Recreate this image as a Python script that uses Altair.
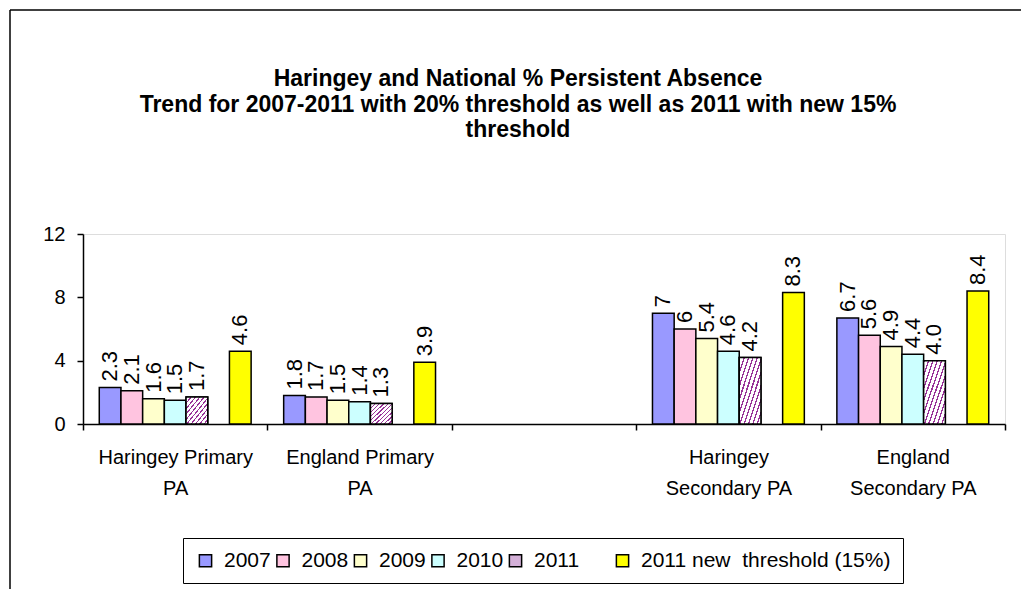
import altair as alt
import pandas as pd

# ---- data ----
categories = ["Haringey Primary PA", "England Primary PA", "Haringey Secondary PA", "England Secondary PA"]
axis_order = ["Haringey Primary PA", "England Primary PA", "gap", "Haringey Secondary PA", "England Secondary PA"]
axis_label_lines = {
    "Haringey Primary PA": ["Haringey Primary", "PA"],
    "England Primary PA": ["England Primary", "PA"],
    "gap": [""],
    "Haringey Secondary PA": ["Haringey", "Secondary PA"],
    "England Secondary PA": ["England", "Secondary PA"],
}

NEW = "2011 new\u00a0 threshold (15%)"
BLANK = "    "
series = ["2007", "2008", "2009", "2010", "2011", BLANK, NEW]
series_colors = ["#9999FF", "#FFC4E0", "#FFFFCC", "#CCFFFF", "#D4B0D8", "#FFFFFF", "#FFFF00"]

v2007 = [2.3, 1.8, 7.0, 6.7]
v2008 = [2.1, 1.7, 6.0, 5.6]
v2009 = [1.6, 1.5, 5.4, 4.9]
v2010 = [1.5, 1.4, 4.6, 4.4]
v2011 = [1.7, 1.3, 4.2, 4.0]
vnew = [4.6, 3.9, 8.3, 8.4]

l2007 = ["2.3", "1.8", "7", "6.7"]
l2008 = ["2.1", "1.7", "6", "5.6"]
l2009 = ["1.6", "1.5", "5.4", "4.9"]
l2010 = ["1.5", "1.4", "4.6", "4.4"]
l2011 = ["1.7", "1.3", "4.2", "4.0"]
lnew = ["4.6", "3.9", "8.3", "8.4"]

y_ticks = [0, 4, 8, 12]
title_lines = [
    "Haringey and National % Persistent Absence",
    "Trend for 2007-2011 with 20% threshold as well as 2011 with new 15%",
    "threshold",
]

# ---- build table ----
value_sets = [("2007", v2007, l2007), ("2008", v2008, l2008), ("2009", v2009, l2009),
              ("2010", v2010, l2010), ("2011", v2011, l2011), (NEW, vnew, lnew)]
rows = []
for s, vals, labs in value_sets:
    for c, v, l in zip(categories, vals, labs):
        rows.append({"cat": c, "series": s, "value": v, "label": l})
df = pd.DataFrame(rows)
title_df = pd.DataFrame({"title": ["\n".join(title_lines)]})
one_df = pd.DataFrame({"k": [0]})

FONT = "Liberation Sans"

label_expr = ""
for k, lines in axis_label_lines.items():
    arr = "[" + ",".join("'" + t + "'" for t in lines) + "]"
    label_expr += f"datum.value == '{k}' ? {arr} : "
label_expr += "datum.label"

x_enc = alt.X(
    "cat:N",
    scale=alt.Scale(domain=axis_order, paddingInner=0, paddingOuter=0),
    axis=alt.Axis(
        title=None, labelAngle=0, labelExpr=label_expr, tickBand="extent",
        labelFont=FONT, labelFontSize=20, labelColor="black", labelLineHeight=31,
        labelPadding=17, labelBaseline="top", tickSize=6, tickColor="black",
        tickWidth=1.5, domainColor="black", domainWidth=1.5, grid=False,
        labelLimit=300,
    ),
)
xoff_enc = alt.XOffset(
    "series:N", scale=alt.Scale(domain=series, paddingInner=0, paddingOuter=0.75)
)
y_enc = alt.Y(
    "value:Q",
    scale=alt.Scale(domain=[0, 12], nice=False),
    axis=alt.Axis(
        title=None, values=y_ticks, labelFont=FONT, labelFontSize=20,
        labelColor="black", labelPadding=12, tickSize=6, tickColor="black",
        tickWidth=1.5, domainColor="black", domainWidth=1.5, grid=False,
    ),
)

bars = alt.Chart(df).mark_bar(stroke="black", strokeWidth=1.5).encode(
    x=x_enc,
    xOffset=xoff_enc,
    y=y_enc,
    color=alt.Color(
        "series:N",
        scale=alt.Scale(domain=series, range=series_colors),
        legend=alt.Legend(
            title=None, orient="none", legendX=100, legendY=304,
            direction="horizontal", columns=7, symbolType="square",
            symbolSize=150, symbolStrokeColor="black", symbolStrokeWidth=1.5,
            labelFont=FONT, labelFontSize=21, labelColor="black", labelOffset=8,
            columnPadding=1.5, padding=12, strokeColor="black", labelLimit=400,
            symbolOpacity=alt.ExprRef(expr=f"datum.value === '{BLANK}' ? 0 : 1"),
        ),
    ),
)

stops = []
n_stripes = 10
for i in range(n_stripes):
    a = i / n_stripes
    b = (i + 0.32) / n_stripes
    c = (i + 1) / n_stripes
    stops += [
        alt.GradientStop(color="#993399", offset=a),
        alt.GradientStop(color="#993399", offset=b),
        alt.GradientStop(color="#FFFFFF", offset=b),
        alt.GradientStop(color="#FFFFFF", offset=c),
    ]
hatch = alt.LinearGradient(gradient="linear", stops=stops, x1=0, y1=0, x2=1, y2=1)

hatch_bars = alt.Chart(df).transform_filter(alt.datum.series == "2011").mark_bar(
    stroke="black", strokeWidth=1.5, fill=hatch
).encode(x=x_enc, xOffset=xoff_enc, y=y_enc)

texts = alt.Chart(df).mark_text(
    angle=270, align="left", baseline="middle", dx=6, font=FONT, fontSize=22, color="black"
).encode(x=x_enc, xOffset=xoff_enc, y=y_enc, text="label:N")

title_text = alt.Chart(title_df).mark_text(
    font=FONT, fontSize=23, fontWeight="bold", color="black", align="center",
    baseline="middle", lineBreak="\n", lineHeight=25.5,
).encode(x=alt.value(435), y=alt.value(-155), text="title:N")

frame_top = alt.Chart(one_df).mark_rule(color="black", strokeWidth=1.5).encode(
    x=alt.value(-73), x2=alt.value(960), y=alt.value(-224)
)
frame_left = alt.Chart(one_df).mark_rule(color="black", strokeWidth=1.5).encode(
    x=alt.value(-73), y=alt.value(-224), y2=alt.value(400)
)

chart = alt.layer(bars, hatch_bars, texts, title_text, frame_top, frame_left).properties(
    width=922,
    height=190,
    autosize=alt.AutoSizeParams(type="none"),
    padding={"left": 75, "top": 226, "right": 16, "bottom": 165},
).configure_view(stroke="#808080", strokeWidth=1.5).configure(background="white")

chart.save("out.html", embed_options={"renderer": "svg", "actions": False})
